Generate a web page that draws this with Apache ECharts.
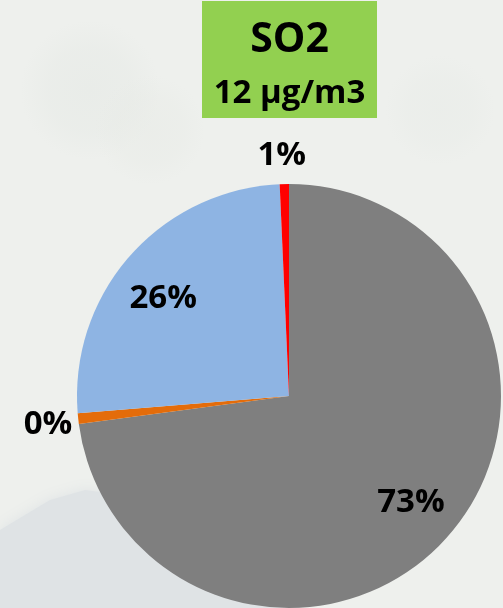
<!DOCTYPE html>
<html><head><meta charset="utf-8">
<style>html,body{margin:0;padding:0;background:#eef0ed}#c{width:503px;height:608px}</style>
<script src="https://cdn.jsdelivr.net/npm/echarts@6/dist/echarts.min.js"></script></head>
<body><div id="c"></div>
<script>
const categories = ['Gray', 'Orange', 'Blue', 'Red'];
const values = [72.9, 0.8, 25.6, 0.7];
const percentLabels = ['73%', '0%', '26%', '1%'];
const colors = ['#7f7f7f', '#e46c0a', '#8eb4e3', '#ff0000'];
const titleLines = ['SO2', '12 µg/m3'];
const labelFont = 'Open Sans';
const labelOffsets = [[40, 35], [44, 4], [-44, -25], [57, -13]];

function blob(cx, cy, r, rgb, a) {
  return {
    type: 'circle', z: 0, shape: {cx, cy, r},
    style: {fill: {type: 'radial', x: 0.5, y: 0.5, r: 0.5, colorStops: [
      {offset: 0, color: `rgba(${rgb},${a})`},
      {offset: 0.6, color: `rgba(${rgb},${a * 0.7})`},
      {offset: 1, color: `rgba(${rgb},0)`}
    ]}}
  };
}

const chart = echarts.init(document.getElementById('c'), null, {renderer: 'canvas'});
chart.setOption({
  animation: false,
  backgroundColor: '#eef0ed',
  graphic: [
    {type: 'polygon', z: 0,
      shape: {points: [[0,530],[50,500],[85,490],[160,500],[260,560],[300,608],[0,608]]},
      style: {fill: '#dfe3e5', shadowBlur: 14, shadowColor: '#dfe3e5'}},
    blob(90, 90, 70, '228,232,228', 0.5),
    blob(150, 130, 55, '230,233,228', 0.4),
    blob(440, 110, 55, '230,234,230', 0.4),
    {type: 'rect', z: 5, shape: {x: 202, y: 1, width: 175, height: 117}, style: {fill: '#92d050'}},
    {type: 'text', z: 6, x: 289.5, y: 40, style: {text: titleLines[0], fill: '#000', font: 'bold 41px "Open Sans"', align: 'center', verticalAlign: 'middle'}},
    {type: 'text', z: 6, x: 289.5, y: 94, style: {text: titleLines[1], fill: '#000', font: 'bold 33px "Open Sans"', align: 'center', verticalAlign: 'middle'}}
  ],
  series: [{
    type: 'pie',
    center: [289, 396],
    radius: [0, 212],
    startAngle: 90,
    clockwise: true,
    avoidLabelOverlap: false,
    itemStyle: {borderWidth: 0},
    emphasis: {disabled: true},
    labelLine: {show: false},
    data: categories.map((name, i) => ({
      name,
      value: values[i],
      itemStyle: {color: colors[i]},
      label: {
        show: true,
        formatter: percentLabels[i],
        position: (i === 0 || i === 2) ? 'inside' : 'outside',
        offset: labelOffsets[i],
        color: '#000',
        fontFamily: labelFont,
        fontWeight: 'bold',
        fontSize: 33
      },
      labelLine: {show: false}
    }))
  }]
});
</script></body></html>
